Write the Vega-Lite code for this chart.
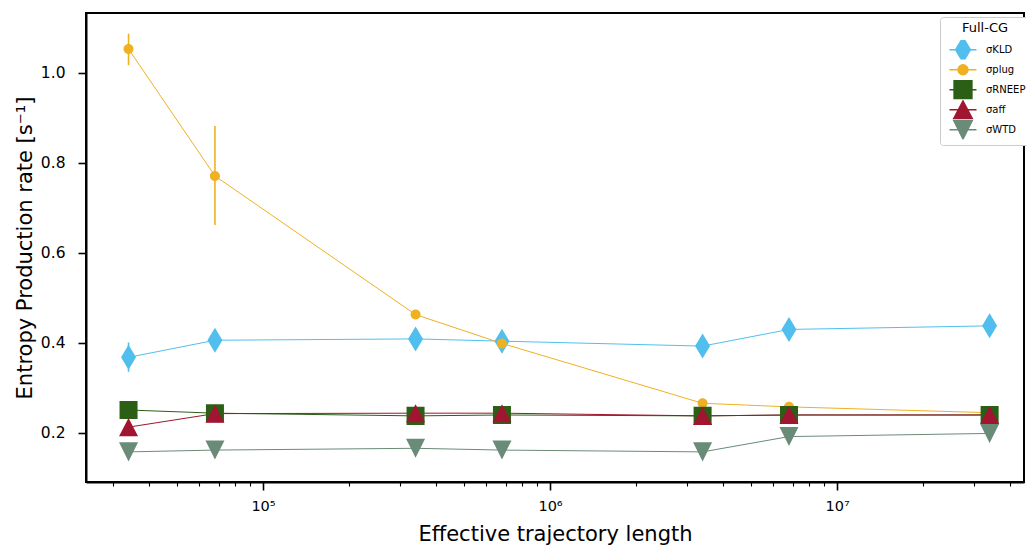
{
  "$schema": "https://vega.github.io/schema/vega-lite/v6.json",
  "width": 938,
  "height": 469,
  "autosize": "none",
  "padding": {"left": 86, "top": 13, "right": 2, "bottom": 68},
  "background": "white",
  "config": {
    "font": "DejaVu Sans",
    "view": {"stroke": "black", "strokeWidth": 2},
    "axis": {
      "domainColor": "black",
      "domainWidth": 2,
      "tickColor": "black",
      "grid": false,
      "labelFont": "DejaVu Sans",
      "labelFontSize": 14.5,
      "labelColor": "black",
      "titleFont": "DejaVu Sans",
      "titleFontSize": 21,
      "titleFontWeight": "normal",
      "titleColor": "black"
    },
    "legend": {
      "orient": "none",
      "legendX": 854,
      "legendY": 4,
      "fillColor": "white",
      "strokeColor": "#cccccc",
      "cornerRadius": 3,
      "padding": 5,
      "titleFont": "DejaVu Sans",
      "titleFontSize": 13,
      "titleFontWeight": "normal",
      "titleColor": "black",
      "titleAnchor": "middle",
      "titleAlign": "center",
      "titlePadding": 5,
      "labelFont": "DejaVu Sans",
      "labelFontSize": 10,
      "labelColor": "black",
      "symbolSize": 335,
      "symbolStrokeWidth": 1.3,
      "symbolOffset": 8,
      "clipHeight": 19.5,
      "rowPadding": 0,
      "labelOffset": 13
    }
  },
  "data": {
    "values": [
      {"series": "KLD", "L": 34000, "rate": 0.368, "lo": 0.336, "hi": 0.401},
      {"series": "KLD", "L": 68000, "rate": 0.406},
      {"series": "KLD", "L": 340000, "rate": 0.409},
      {"series": "KLD", "L": 680000, "rate": 0.404},
      {"series": "KLD", "L": 3400000, "rate": 0.393},
      {"series": "KLD", "L": 6800000, "rate": 0.43},
      {"series": "KLD", "L": 34000000, "rate": 0.438},
      {"series": "plug", "L": 34000, "rate": 1.053, "lo": 1.017, "hi": 1.087},
      {"series": "plug", "L": 68000, "rate": 0.771, "lo": 0.662, "hi": 0.882},
      {"series": "plug", "L": 340000, "rate": 0.463},
      {"series": "plug", "L": 680000, "rate": 0.399},
      {"series": "plug", "L": 3400000, "rate": 0.266},
      {"series": "plug", "L": 6800000, "rate": 0.258},
      {"series": "plug", "L": 34000000, "rate": 0.245},
      {"series": "RNEEP", "L": 34000, "rate": 0.251},
      {"series": "RNEEP", "L": 68000, "rate": 0.244},
      {"series": "RNEEP", "L": 340000, "rate": 0.238},
      {"series": "RNEEP", "L": 680000, "rate": 0.24},
      {"series": "RNEEP", "L": 3400000, "rate": 0.238},
      {"series": "RNEEP", "L": 6800000, "rate": 0.24},
      {"series": "RNEEP", "L": 34000000, "rate": 0.24},
      {"series": "aff", "L": 34000, "rate": 0.213},
      {"series": "aff", "L": 68000, "rate": 0.243},
      {"series": "aff", "L": 340000, "rate": 0.244},
      {"series": "aff", "L": 680000, "rate": 0.244},
      {"series": "aff", "L": 3400000, "rate": 0.238},
      {"series": "aff", "L": 6800000, "rate": 0.24},
      {"series": "aff", "L": 34000000, "rate": 0.24},
      {"series": "WTD", "L": 34000, "rate": 0.158},
      {"series": "WTD", "L": 68000, "rate": 0.162},
      {"series": "WTD", "L": 340000, "rate": 0.166},
      {"series": "WTD", "L": 680000, "rate": 0.162},
      {"series": "WTD", "L": 3400000, "rate": 0.158},
      {"series": "WTD", "L": 6800000, "rate": 0.192},
      {"series": "WTD", "L": 34000000, "rate": 0.199}
    ]
  },
  "encoding": {
    "x": {
      "field": "L",
      "type": "quantitative",
      "title": "Effective trajectory length",
      "scale": {"type": "log", "domain": [24170, 44800000], "nice": false},
      "axis": {
        "values": [30000, 40000, 50000, 60000, 70000, 80000, 90000, 100000, 200000, 300000, 400000, 500000, 600000, 700000, 800000, 900000, 1000000, 2000000, 3000000, 4000000, 5000000, 6000000, 7000000, 8000000, 9000000, 10000000, 20000000, 30000000, 40000000],
        "labelExpr": "datum.value == 100000 ? '10⁵' : datum.value == 1000000 ? '10⁶' : datum.value == 10000000 ? '10⁷' : ''",
        "tickSize": {"condition": {"test": "datum.value == 100000 || datum.value == 1000000 || datum.value == 10000000", "value": 8}, "value": 4},
        "tickWidth": {"condition": {"test": "datum.value == 100000 || datum.value == 1000000 || datum.value == 10000000", "value": 1.6}, "value": 1.1},
        "labelPadding": 9,
        "labelFlush": false,
        "labelOverlap": false,
        "titlePadding": 11
      }
    },
    "y": {
      "field": "rate",
      "type": "quantitative",
      "title": "Entropy Production rate [s⁻¹]",
      "scale": {"domain": [0.0911, 1.133], "nice": false, "zero": false},
      "axis": {
        "values": [0.2, 0.4, 0.6, 0.8, 1.0],
        "format": ".1f",
        "labelFontSize": 15.5,
        "tickSize": 8,
        "tickWidth": 1.6,
        "labelPadding": 13,
        "titlePadding": 5
      }
    }
  },
  "layer": [
    {
      "mark": {"type": "line", "strokeWidth": 1},
      "encoding": {
        "stroke": {"field": "series", "type": "nominal", "title": "Full-CG",
          "scale": {"domain": ["KLD", "plug", "RNEEP", "aff", "WTD"], "range": ["#50BFEE", "#EFB120", "#2B5F16", "#A0152F", "#6A8B78"]},
          "legend": {"labelExpr": "'σ' + datum.label", "clipHeight": 19.5}},
        "detail": {"field": "series"}
      }
    },
    {
      "transform": [{"filter": "isValid(datum.lo)"}],
      "mark": {"type": "rule", "strokeWidth": 1.6},
      "encoding": {
        "y": {"field": "lo", "type": "quantitative"},
        "y2": {"field": "hi"},
        "stroke": {"field": "series", "type": "nominal", "title": "Full-CG",
          "legend": {"labelExpr": "'σ' + datum.label", "clipHeight": 19.5}}
      }
    },
    {
      "mark": {"type": "point", "filled": true, "size": 335, "strokeWidth": 0, "opacity": 1},
      "encoding": {
        "shape": {"field": "series", "type": "nominal", "title": "Full-CG",
          "scale": {"domain": ["KLD", "plug", "RNEEP", "aff", "WTD"],
            "range": [
              "M-1.475,0L1.475,0M0,-1.366L0.82,0L0,1.366L-0.82,0Z",
              "M-1.475,0L1.475,0M-0.546,0A0.546,0.546,0,1,0,0.546,0A0.546,0.546,0,1,0,-0.546,0Z",
              "M-1.475,0L1.475,0M-0.984,-0.984L0.984,-0.984L0.984,0.984L-0.984,0.984Z",
              "M-1.475,0L1.475,0M0,-0.984L1.04,0.984L-1.04,0.984Z",
              "M-1.475,0L1.475,0M-1.04,-1.04L1.04,-1.04L0,1.04Z"
            ]},
          "legend": {"labelExpr": "'σ' + datum.label", "clipHeight": 19.5}},
        "fill": {"field": "series", "type": "nominal", "title": "Full-CG",
          "scale": {"domain": ["KLD", "plug", "RNEEP", "aff", "WTD"], "range": ["#50BFEE", "#EFB120", "#2B5F16", "#A0152F", "#6A8B78"]},
          "legend": {"labelExpr": "'σ' + datum.label", "clipHeight": 19.5}},
        "stroke": {"field": "series", "type": "nominal", "title": "Full-CG",
          "legend": {"labelExpr": "'σ' + datum.label", "clipHeight": 19.5}}
      }
    }
  ]
}
